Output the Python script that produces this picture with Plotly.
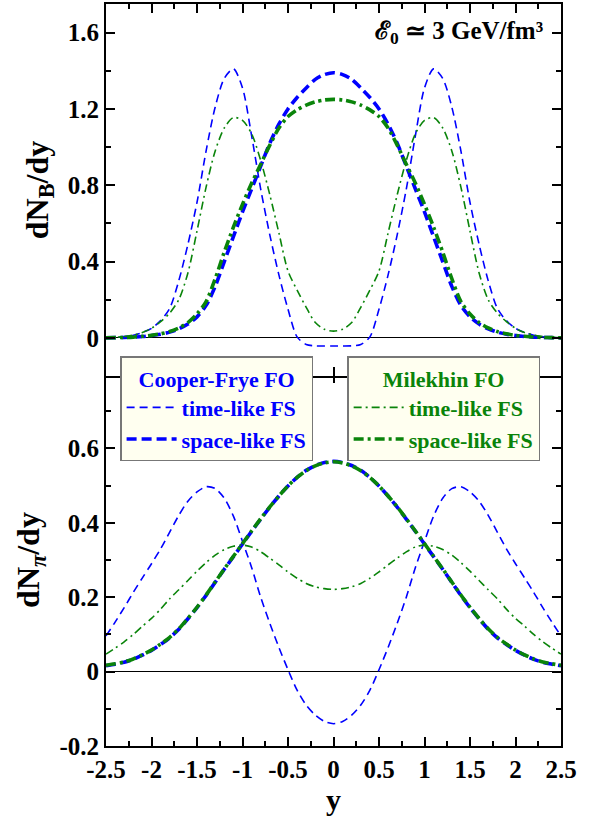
import plotly.graph_objects as go

# rapidity grid
Y = [-2.5, -2.4, -2.3, -2.2, -2.1, -2.0, -1.9, -1.8, -1.7, -1.6, -1.5, -1.4, -1.3,
     -1.2, -1.1, -1.0, -0.9, -0.8, -0.7, -0.6, -0.5, -0.4, -0.3, -0.2, -0.1, 0.0,
     0.1, 0.2, 0.3, 0.4, 0.5, 0.6, 0.7, 0.8, 0.9, 1.0, 1.1, 1.2, 1.3, 1.4, 1.5,
     1.6, 1.7, 1.8, 1.9, 2.0, 2.1, 2.2, 2.3, 2.4, 2.5]

# baryons, Cooper-Frye, time-like FS
B_CF_TIME = [0.000, 0.002, 0.006, 0.014, 0.028, 0.05, 0.09, 0.155, 0.30, 0.49, 0.71, 0.98, 1.21,
             1.36, 1.41, 1.31, 1.06, 0.78, 0.54, 0.33, 0.15, 0.005, -0.035, -0.042, -0.043, -0.043,
             -0.043, -0.042, -0.035, 0.005, 0.15, 0.33, 0.54, 0.78, 1.06, 1.31, 1.41, 1.36, 1.21,
             0.98, 0.71, 0.49, 0.30, 0.155, 0.09, 0.05, 0.028, 0.014, 0.006, 0.002, 0.000]
# baryons, Cooper-Frye, space-like FS
B_CF_SPACE = [0.000, 0.001, 0.002, 0.004, 0.007, 0.012, 0.019, 0.03, 0.047, 0.072, 0.11, 0.17, 0.27,
              0.40, 0.53, 0.66, 0.78, 0.90, 1.02, 1.12, 1.20, 1.26, 1.31, 1.355, 1.38, 1.39,
              1.38, 1.355, 1.31, 1.26, 1.20, 1.12, 1.02, 0.90, 0.78, 0.66, 0.53, 0.40, 0.27,
              0.17, 0.11, 0.072, 0.047, 0.03, 0.019, 0.012, 0.007, 0.004, 0.002, 0.001, 0.000]
# baryons, Milekhin, time-like FS
B_M_TIME = [0.001, 0.003, 0.007, 0.015, 0.028, 0.05, 0.085, 0.13, 0.20, 0.34, 0.56, 0.79, 0.98,
            1.10, 1.155, 1.14, 1.07, 0.93, 0.75, 0.55, 0.35, 0.25, 0.16, 0.08, 0.045, 0.035,
            0.045, 0.08, 0.16, 0.25, 0.35, 0.55, 0.75, 0.93, 1.07, 1.14, 1.155, 1.10, 0.98,
            0.79, 0.56, 0.34, 0.20, 0.13, 0.085, 0.05, 0.028, 0.015, 0.007, 0.003, 0.001]
# baryons, Milekhin, space-like FS
B_M_SPACE = [0.000, 0.001, 0.002, 0.004, 0.008, 0.013, 0.021, 0.033, 0.052, 0.08, 0.125, 0.19, 0.31,
             0.45, 0.58, 0.70, 0.81, 0.91, 1.01, 1.10, 1.16, 1.195, 1.22, 1.237, 1.247, 1.25,
             1.247, 1.237, 1.22, 1.195, 1.16, 1.10, 1.01, 0.91, 0.81, 0.70, 0.58, 0.45, 0.31,
             0.19, 0.125, 0.08, 0.052, 0.033, 0.021, 0.013, 0.008, 0.004, 0.002, 0.001, 0.000]

# pions, Cooper-Frye, time-like FS
P_CF_TIME = [0.096, 0.133, 0.172, 0.213, 0.252, 0.29, 0.33, 0.375, 0.42, 0.458, 0.483, 0.497, 0.492,
             0.466, 0.418, 0.35, 0.28, 0.20, 0.13, 0.065, 0.005, -0.05, -0.09, -0.117, -0.134, -0.14,
             -0.134, -0.117, -0.09, -0.05, 0.005, 0.065, 0.13, 0.20, 0.28, 0.35, 0.418, 0.466, 0.492,
             0.497, 0.483, 0.458, 0.42, 0.375, 0.33, 0.29, 0.252, 0.213, 0.172, 0.133, 0.096]
# pions, Cooper-Frye, space-like FS
P_CF_SPACE = [0.016, 0.020, 0.025, 0.033, 0.044, 0.057, 0.073, 0.091, 0.114, 0.142, 0.172, 0.205, 0.24,
              0.275, 0.309, 0.343, 0.377, 0.41, 0.442, 0.472, 0.499, 0.522, 0.541, 0.554, 0.562, 0.565,
              0.562, 0.554, 0.541, 0.522, 0.499, 0.472, 0.442, 0.41, 0.377, 0.343, 0.309, 0.275, 0.24,
              0.205, 0.172, 0.142, 0.114, 0.091, 0.073, 0.057, 0.044, 0.033, 0.025, 0.020, 0.016]
# pions, Milekhin, time-like FS
P_M_TIME = [0.047, 0.063, 0.08, 0.10, 0.122, 0.143, 0.168, 0.196, 0.22, 0.245, 0.27, 0.293, 0.313,
            0.328, 0.337, 0.34, 0.335, 0.322, 0.305, 0.287, 0.268, 0.251, 0.237, 0.228, 0.223, 0.221,
            0.223, 0.228, 0.237, 0.251, 0.268, 0.287, 0.305, 0.322, 0.335, 0.34, 0.337, 0.328, 0.313,
            0.293, 0.27, 0.245, 0.22, 0.196, 0.168, 0.143, 0.122, 0.10, 0.08, 0.063, 0.047]
# pions, Milekhin, space-like FS
P_M_SPACE = [0.017, 0.021, 0.026, 0.034, 0.045, 0.058, 0.074, 0.092, 0.115, 0.143, 0.173, 0.206, 0.241,
             0.276, 0.31, 0.344, 0.378, 0.411, 0.443, 0.472, 0.499, 0.522, 0.54, 0.553, 0.561, 0.564,
             0.561, 0.553, 0.54, 0.522, 0.499, 0.472, 0.443, 0.411, 0.378, 0.344, 0.31, 0.276, 0.241,
             0.206, 0.173, 0.143, 0.115, 0.092, 0.074, 0.058, 0.045, 0.034, 0.026, 0.021, 0.017]

X_TICKS = [-2.5, -2, -1.5, -1, -0.5, 0, 0.5, 1, 1.5, 2, 2.5]
X_TICKTEXT = ["-2.5", "-2", "-1.5", "-1", "-0.5", "0", "0.5", "1", "1.5", "2", "2.5"]
YB_TICKS = [0, 0.4, 0.8, 1.2, 1.6]
YB_TICKTEXT = ["0", "0.4", "0.8", "1.2", "1.6"]
YP_TICKS = [-0.2, 0, 0.2, 0.4, 0.6]
YP_TICKTEXT = ["-0.2", "0", "0.2", "0.4", "0.6"]
NAMES = ["time-like FS", "space-like FS", "time-like FS", "space-like FS"]
GROUP_TITLES = ["Cooper-Frye FO", "Milekhin FO"]
ANNOT = "ℰ<sub>0</sub> ≃ 3 GeV/fm³"

BLUE = "#0000ff"
GREEN = "#0a840a"
FONT = "Liberation Serif"

W, H = 604, 823
ML, MR, MT, MB = 106, 43, 2, 77
PLOT_H = H - MT - MB
HALF = 1.0 / PLOT_H  # one pixel in paper units


def b(s):
    return "<b>" + s + "</b>"


fig = go.Figure()

styles = [
    (BLUE, 1.6, "8px,5px", "legend"),
    (BLUE, 3.6, "10px,5px", "legend"),
    (GREEN, 1.6, "8px,4px,2px,4px", "legend2"),
    (GREEN, 3.6, "10px,4px,3px,4px", "legend2"),
]
top_series = [B_CF_TIME, B_CF_SPACE, B_M_TIME, B_M_SPACE]
bot_series = [P_CF_TIME, P_CF_SPACE, P_M_TIME, P_M_SPACE]

for (col, w, dash, leg), name, vals in zip(styles, NAMES, top_series):
    fig.add_trace(go.Scatter(x=Y, y=vals, mode="lines", name=b(name), legend=leg,
                             line=dict(color=col, width=w, dash=dash, shape="spline", smoothing=0.8),
                             xaxis="x2", yaxis="y", showlegend=True))
for (col, w, dash, leg), name, vals in zip(styles, NAMES, bot_series):
    fig.add_trace(go.Scatter(x=Y, y=vals, mode="lines", name=b(name), legend=leg,
                             line=dict(color=col, width=w, dash=dash, shape="spline", smoothing=0.8),
                             xaxis="x", yaxis="y2", showlegend=False))

tickfont = dict(family=FONT, size=25, color="black")
common_x = dict(range=[-2.5, 2.5], showline=True, linecolor="black", linewidth=2, mirror="ticks",
                ticks="inside", ticklen=9, tickwidth=2, tickcolor="black",
                tickvals=X_TICKS, ticktext=[b(t) for t in X_TICKTEXT], showgrid=False, zeroline=False,
                minor=dict(ticks="inside", ticklen=5, tickwidth=2, tickcolor="black", dtick=0.25,
                           tick0=0, showgrid=False))
common_y = dict(showline=True, linecolor="black", linewidth=2, mirror="ticks",
                ticks="inside", ticklen=9, tickwidth=2, tickcolor="black", showgrid=False,
                zeroline=True, zerolinecolor="black", zerolinewidth=1)

leg_common = dict(xanchor="left", yanchor="top", bgcolor="#fffff0", bordercolor="#777777",
                  borderwidth=1.5, tracegroupgap=0, itemwidth=50)

fig.update_layout(
    width=W, height=H,
    margin=dict(l=ML, r=MR, t=MT, b=MB),
    paper_bgcolor="white", plot_bgcolor="white",
    xaxis=dict(**common_x, domain=[0, 1], anchor="y2", tickfont=tickfont,
               title=dict(text=b("y"), font=dict(family=FONT, size=30, color="black"), standoff=6)),
    xaxis2=dict(**common_x, domain=[0, 1], anchor="y", matches="x", showticklabels=False),
    yaxis=dict(**common_y, domain=[0.5 - HALF, 1], range=[-0.2, 1.75], anchor="x2",
               tickvals=YB_TICKS, ticktext=[b(t) for t in YB_TICKTEXT], tickfont=tickfont,
               minor=dict(ticks="inside", ticklen=5, tickwidth=2, tickcolor="black", dtick=0.2,
                          tick0=0, showgrid=False),
               title=dict(text=b("dN<sub>B</sub>/dy"), font=dict(family=FONT, size=32, color="black"),
                          standoff=10)),
    yaxis2=dict(**common_y, domain=[0, 0.5 + HALF], range=[-0.2, 0.8], anchor="x",
                tickvals=YP_TICKS, ticktext=[b(t) for t in YP_TICKTEXT], tickfont=tickfont,
                minor=dict(ticks="inside", ticklen=5, tickwidth=2, tickcolor="black", dtick=0.1,
                           tick0=0, showgrid=False),
                title=dict(text=b("dN<sub><i>π</i></sub>/dy"), font=dict(family=FONT, size=32, color="black"),
                           standoff=10)),
    legend=dict(**leg_common, x=0.031, y=0.525,
                font=dict(family=FONT, size=22, color=BLUE),
                title=dict(text=b(GROUP_TITLES[0]), side="top center",
                           font=dict(family=FONT, size=22, color=BLUE))),
    legend2=dict(**leg_common, x=0.53, y=0.525,
                 font=dict(family=FONT, size=22, color=GREEN),
                 title=dict(text=b(GROUP_TITLES[1]), side="top center",
                            font=dict(family=FONT, size=22, color=GREEN))),
    annotations=[dict(text=b(ANNOT), xref="paper", yref="paper",
                      x=0.965, y=0.962, xanchor="right", yanchor="middle", showarrow=False,
                      font=dict(family=FONT, size=25, color="black"))],
)

fig.write_html("out.html")
